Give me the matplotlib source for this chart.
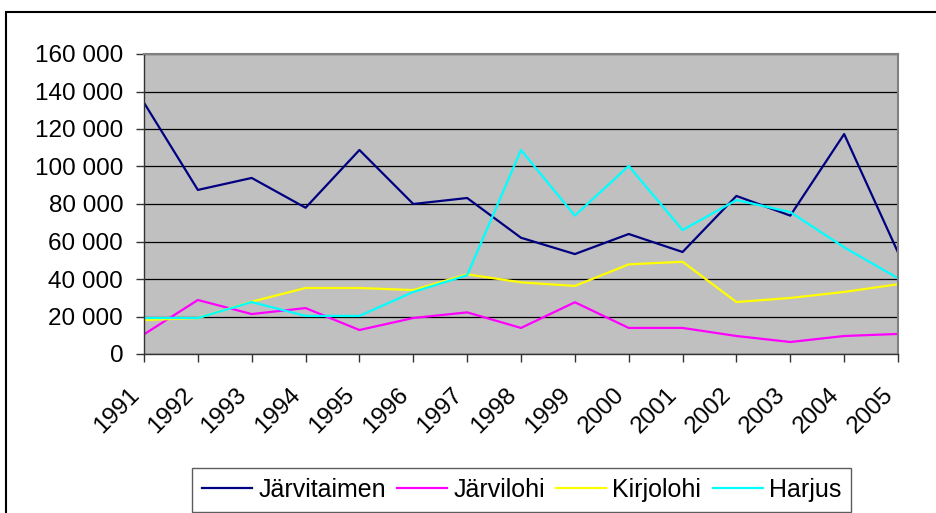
import matplotlib.pyplot as plt
from matplotlib.patches import Rectangle
from matplotlib.ticker import FuncFormatter
from matplotlib.transforms import ScaledTranslation

plt.rcParams["font.family"] = ["Liberation Sans", "DejaVu Sans"]

years = list(range(1991, 2006))

# istutusmäärät (kpl) lajeittain
jarvitaimen = [134000, 87500, 93900, 78000, 108800, 80000, 83200, 62000,
               53300, 64000, 54400, 84300, 73800, 117300, 54200]
jarvilohi = [10500, 28800, 21300, 24500, 12800, 19200, 22200, 13900,
             27600, 13900, 13900, 9600, 6400, 9600, 10700]
kirjolohi = [18100, 19200, 27900, 35200, 35200, 34100, 42500, 38200,
             36300, 47800, 49200, 27700, 29900, 33100, 37200]
harjus = [19200, 19200, 27700, 20300, 20300, 33100, 42000, 108800,
          73800, 100300, 66100, 82100, 75700, 56900, 40400]

series = [
    ("Järvitaimen", jarvitaimen, "#000080"),
    ("Järvilohi", jarvilohi, "#FF00FF"),
    ("Kirjolohi", kirjolohi, "#FFFF00"),
    ("Harjus", harjus, "#00FFFF"),
]

FS = 17.5
W, H = 936, 513
fig = plt.figure(figsize=(W / 100, H / 100), dpi=100)
ax = fig.add_axes([144 / W, 1 - 354 / H, (898 - 144) / W, (354 - 54) / H])
ax.set_facecolor("#C0C0C0")

for name, vals, col in series:
    ax.plot(years, vals, color=col, lw=1.6, label=name)

ax.set_xlim(1991, 2005)
ax.set_ylim(0, 160000)
ax.set_yticks(range(0, 160001, 20000))
ax.set_xticks(years)
ax.yaxis.set_major_formatter(FuncFormatter(lambda v, p: f"{int(v):,}".replace(",", " ")))
ax.grid(axis="y", color="black", lw=0.9)
ax.set_axisbelow(True)

for s in ("top", "right"):
    ax.spines[s].set_color("#808080")
    ax.spines[s].set_linewidth(1.5)
for s in ("left", "bottom"):
    ax.spines[s].set_color("#333333")
    ax.spines[s].set_linewidth(1.0)

ax.tick_params(axis="both", direction="out", length=6, width=1, color="#333333",
               labelsize=FS)
ax.tick_params(axis="y", pad=9)
ax.tick_params(axis="x", pad=8)
plt.setp(ax.get_xticklabels(), rotation=45, ha="right", rotation_mode="anchor")
shift = ScaledTranslation(-16 / 100, -10 / 100, fig.dpi_scale_trans)
for lab in ax.get_xticklabels():
    lab.set_transform(lab.get_transform() + shift)

# kehys koko kuvan ympärillä
fig.patches.append(Rectangle((6 / W, -0.1), 1.2, 1 - 12 / H + 0.1, transform=fig.transFigure,
                             fill=False, edgecolor="black", lw=1.5))

leg = fig.legend(loc="upper left", bbox_to_anchor=(192 / W, 1 - 468 / H), ncol=4,
                 fontsize=18, frameon=True, fancybox=False, edgecolor="#333333",
                 handlelength=2.0, handletextpad=0.25, columnspacing=0.45,
                 borderpad=0.4, borderaxespad=0)
leg.get_frame().set_linewidth(1.0)

fig.savefig("out.png", dpi=100)
